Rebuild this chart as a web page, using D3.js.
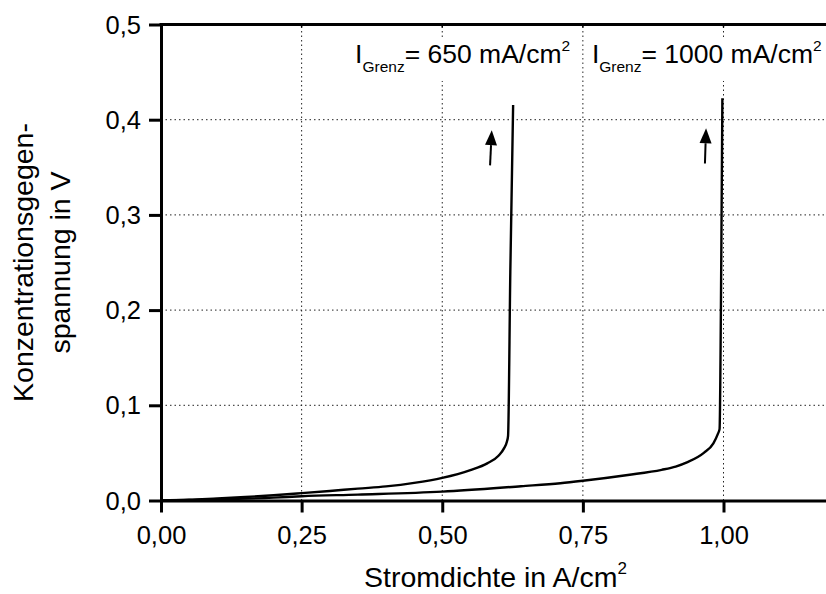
<!DOCTYPE html>
<html>
<head>
<meta charset="utf-8">
<script src="https://cdnjs.cloudflare.com/ajax/libs/d3/7.8.5/d3.min.js"></script>
<style>
  body { margin: 0; background: #fff; }
  svg { display: block; font-family: "Liberation Sans", Arial, sans-serif; }
</style>
</head>
<body>
<svg id="chart"></svg>
<script>
const WIDTH = 826;
const HEIGHT = 594;

// curve for I_Grenz = 650 mA/cm2
const current650 = [0, 0.05, 0.10, 0.15, 0.20, 0.25, 0.30, 0.35, 0.40, 0.45, 0.50, 0.55, 0.58, 0.60, 0.61, 0.615, 0.617, 0.621, 0.626];
const voltage650 = [0, 0.0008, 0.0022, 0.0036, 0.0055, 0.0077, 0.010, 0.0125, 0.0148, 0.0185, 0.0238, 0.032, 0.039, 0.047, 0.055, 0.062, 0.068, 0.24, 0.4155];

// curve for I_Grenz = 1000 mA/cm2
const current1000 = [0, 0.05, 0.10, 0.20, 0.25, 0.35, 0.50, 0.64, 0.71, 0.75, 0.83, 0.89, 0.915, 0.935, 0.965, 0.982, 0.99, 0.993, 0.996, 0.998];
const voltage1000 = [0, 0.0005, 0.0011, 0.0030, 0.0045, 0.0062, 0.0093, 0.0150, 0.0181, 0.0207, 0.0268, 0.0322, 0.0356, 0.040, 0.050, 0.060, 0.070, 0.075, 0.25, 0.4225];

const xTicks = [0, 0.25, 0.5, 0.75, 1.0];
const xTickLabels = ["0,00", "0,25", "0,50", "0,75", "1,00"];
const yTicks = [0, 0.1, 0.2, 0.3, 0.4, 0.5];
const yTickLabels = ["0,0", "0,1", "0,2", "0,3", "0,4", "0,5"];

// annotations: label start [x, y] and arrow [tailX, tailY, tipX, tipY] in data units
const labelValues = ["650", "1000"];
const labelPos = [[0.345, 0.4596], [0.766, 0.4596]];
const arrows = [[0.585, 0.352, 0.588, 0.389], [0.967, 0.354, 0.969, 0.391]];

const margin = { left: 161, top: 24.5, bottom: 93.5 };
const x = d3.scaleLinear().domain([0, 1.2]).range([margin.left, margin.left + 562.5 * 1.2]);
const y = d3.scaleLinear().domain([0, 0.5]).range([HEIGHT - margin.bottom, margin.top]);

const svg = d3.select('#chart')
    .attr('width', WIDTH)
    .attr('height', HEIGHT);

const x0 = x(0), x1 = x(1.2), y0 = y(0), y1 = y(0.5);

// grid
svg.append('g').selectAll('line')
    .data(xTicks.slice(1))
    .join('line')
    .attr('x1', d => x(d)).attr('x2', d => x(d))
    .attr('y1', y0).attr('y2', y1)
    .attr('stroke', '#222').attr('stroke-width', 1)
    .attr('stroke-dasharray', '1.5,3');

svg.append('g').selectAll('line')
    .data(yTicks.slice(1, -1))
    .join('line')
    .attr('y1', d => y(d)).attr('y2', d => y(d))
    .attr('x1', x0).attr('x2', x1)
    .attr('stroke', '#222').attr('stroke-width', 1)
    .attr('stroke-dasharray', '1.5,3');

// white boxes behind labels
const boxes = svg.append('g');

// curves
const line = d3.line()
    .x(d => x(d[0]))
    .y(d => y(d[1]))
    .curve(d3.curveMonotoneX);

[[current650, voltage650], [current1000, voltage1000]].forEach(([cs, vs]) => {
    svg.append('path')
        .datum(cs.map((c, i) => [c, vs[i]]))
        .attr('d', line)
        .attr('fill', 'none')
        .attr('stroke', '#000')
        .attr('stroke-width', 2.4)
        .attr('stroke-linejoin', 'round');
});

// axes
const xAxis = d3.axisBottom(x).tickValues(xTicks).tickFormat((d, i) => xTickLabels[i]).tickSize(12).tickSizeOuter(0);
const yAxis = d3.axisLeft(y).tickValues(yTicks).tickFormat((d, i) => yTickLabels[i]).tickSize(12).tickSizeOuter(0);

const gx = svg.append('g').attr('transform', `translate(0,${y0})`).call(xAxis);
const gy = svg.append('g').attr('transform', `translate(${x0},0)`).call(yAxis);

[gx, gy].forEach(g => {
    g.select('.domain').attr('stroke', '#000').attr('stroke-width', 3);
    g.selectAll('.tick line').attr('stroke', '#000').attr('stroke-width', 3);
    g.selectAll('.tick text')
        .attr('fill', '#000')
        .style('font-size', '25.5px')
        .style('font-family', '"Liberation Sans", Arial, sans-serif');
});
gx.selectAll('.tick text').attr('y', 0).attr('dy', null).attr('transform', 'translate(0,43)');
gy.selectAll('.tick text').attr('x', -20).attr('dy', '0.34em');

// top axis
svg.append('line')
    .attr('x1', x0 - 1.5).attr('x2', x1)
    .attr('y1', y1).attr('y2', y1)
    .attr('stroke', '#000').attr('stroke-width', 3);
svg.append('g').selectAll('line')
    .data(xTicks.slice(1))
    .join('line')
    .attr('x1', d => x(d)).attr('x2', d => x(d))
    .attr('y1', y1).attr('y2', y1 + 3)
    .attr('stroke', '#000').attr('stroke-width', 1.5);

// annotation labels
labelValues.forEach((v, i) => {
    const t = svg.append('text')
        .attr('x', x(labelPos[i][0]))
        .attr('y', y(labelPos[i][1]))
        .attr('fill', '#000')
        .style('font-size', '26.5px');
    t.append('tspan').text('I');
    t.append('tspan').attr('dy', 9).style('font-size', '15.5px').text('Grenz');
    t.append('tspan').attr('dy', -9).text(`= ${v} mA/cm`);
    t.append('tspan').attr('dy', -12).style('font-size', '15.5px').text('2');
    const bb = t.node().getBBox();
    boxes.append('rect')
        .attr('x', bb.x - 8).attr('y', bb.y)
        .attr('width', bb.width + 12).attr('height', bb.height + 6)
        .attr('fill', '#fff');
});

// arrows: shaft plus filled triangular head
const HEAD_LEN = 15, HEAD_HALF = 6;
arrows.forEach(a => {
    const tx = x(a[0]), ty = y(a[1]), hx = x(a[2]), hy = y(a[3]);
    const len = Math.hypot(hx - tx, hy - ty);
    const ux = (hx - tx) / len, uy = (hy - ty) / len;
    const bx = hx - ux * HEAD_LEN, by = hy - uy * HEAD_LEN;
    svg.append('line')
        .attr('x1', tx).attr('y1', ty)
        .attr('x2', bx).attr('y2', by)
        .attr('stroke', '#000').attr('stroke-width', 2);
    const p = d3.path();
    p.moveTo(hx, hy);
    p.lineTo(bx - uy * HEAD_HALF, by + ux * HEAD_HALF);
    p.lineTo(bx + uy * HEAD_HALF, by - ux * HEAD_HALF);
    p.closePath();
    svg.append('path').attr('d', p.toString()).attr('fill', '#000');
});

// axis titles
const xt = svg.append('text')
    .attr('x', (x0 + x1) / 2 - 3)
    .attr('y', 587)
    .attr('text-anchor', 'middle')
    .attr('fill', '#000')
    .style('font-size', '28.5px');
xt.append('tspan').text('Stromdichte in A/cm');
xt.append('tspan').attr('dy', -13).style('font-size', '17px').text('2');

const yMid = (y0 + y1) / 2;
const yt = svg.append('text')
    .attr('transform', `translate(33,${yMid}) rotate(-90)`)
    .attr('text-anchor', 'middle')
    .attr('fill', '#000')
    .style('font-size', '28.5px');
yt.append('tspan').attr('x', 0).attr('y', 0).text('Konzentrationsgegen-');
yt.append('tspan').attr('x', 0).attr('y', 37).text('spannung in V');
</script>
</body>
</html>
